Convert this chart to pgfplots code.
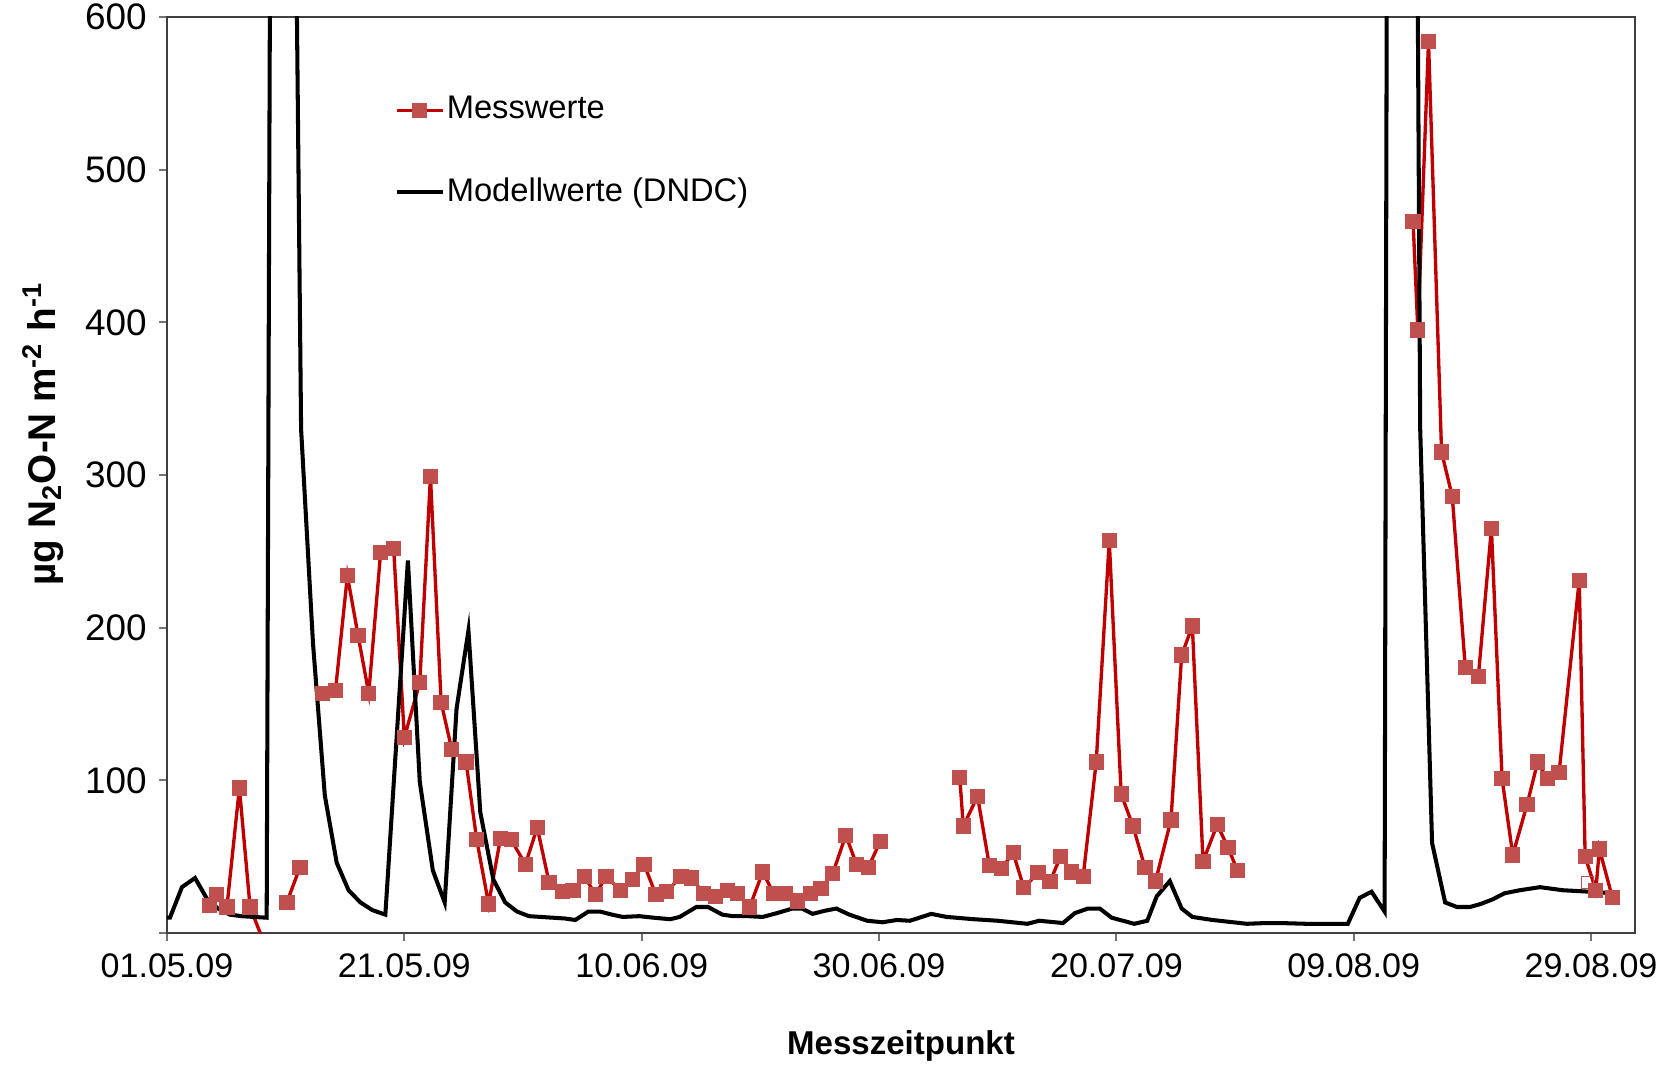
\documentclass[border=0pt]{standalone}
\usepackage{fontspec}
\setmainfont{Liberation Sans}
\usepackage{pgfplots}
\pgfplotsset{compat=1.18}
\definecolor{linered}{HTML}{C00000}
\definecolor{markred}{HTML}{C0504D}

\begin{document}
\begin{tikzpicture}
\begin{axis}[
  scale only axis, width=14.68cm, height=9.16cm,
  xmin=0, xmax=123.7, ymin=0, ymax=600,
  xtick={0,20,...,120},
  xticklabels={01.05.09,21.05.09,10.06.09,30.06.09,20.07.09,09.08.09,29.08.09},
  ytick={0,100,...,600}, yticklabels={,100,200,300,400,500,600},
  tick pos=left, tick align=outside, major tick length=0.8mm,
  tick style={black!55, line width=0.6pt},
  axis line style={black!75, line width=0.5pt},
  /pgf/number format/assume math mode=true,
  xticklabel style={font=\fontsize{9.7}{11}\selectfont},
  yticklabel style={font=\fontsize{10.5}{12}\selectfont},
  xlabel={\textbf{Messzeitpunkt}},
  xlabel style={font=\fontsize{9.4}{11}\selectfont, at={(axis description cs:0.5,-0.1234)}, anchor=center},
  ylabel={\textbf{µg N\textsubscript{2}O-N m\textsuperscript{-2} h\textsuperscript{-1}}},
  ylabel style={font=\fontsize{11}{12}\selectfont, at={(axis description cs:-0.0845,0.545)}, anchor=center},
  unbounded coords=jump,
  legend style={draw=none, fill=none, at={(rel axis cs:0.1546,0.853)}, anchor=west,
    inner xsep=0pt, row sep=3.95mm, font=\fontsize{9.3}{11}\selectfont,
    nodes={inner xsep=0.6pt}},
  legend cell align=left,
  legend image code/.code={\draw[mark repeat=2,mark phase=2,#1] plot coordinates {(0cm,0cm) (0.23cm,0cm) (0.46cm,0cm)};},
]
% Messwerte
\addplot[linered, line width=0.95pt, mark=square*, mark size=1.7pt,
  mark options={fill=markred, draw=markred, solid}] coordinates {
  (3.6,18) (4.2,25) (5.05,17) (6.1,95) (7.0,17) (8.1,-5) (8.5,nan)
  (10.1,20) (11.2,43) (12,nan)
  (13.1,157) (14.2,159) (15.2,234) (16.1,195) (17.0,157) (18.0,249) (19.1,252)
  (20.0,128) (21.3,164) (22.2,299) (23.1,151) (24.0,120) (25.2,112) (26.1,61)
  (27.1,19) (28.1,62) (29.0,61) (30.2,45) (31.2,69) (32.2,33) (33.3,27)
  (34.2,28) (35.2,37) (36.1,25) (37.0,37) (38.2,28) (39.2,35) (40.2,45)
  (41.2,25) (42.1,27) (43.3,37) (44.2,36) (45.2,26) (46.2,24) (47.2,28)
  (48.1,26) (49.1,17) (50.2,40) (51.1,26) (52.1,26) (53.1,21) (54.2,26)
  (55.1,29) (56.1,39) (57.2,64) (58.1,45) (59.1,43) (60.1,60) (63,nan)
  (66.8,102) (67.1,70) (68.3,89.5) (69.3,44) (70.3,42) (71.3,52.6) (72.2,29.6)
  (73.4,39.5) (74.4,33.6) (75.3,50) (76.2,40) (77.2,37) (78.3,112) (79.4,257)
  (80.4,91) (81.4,70) (82.4,43) (83.3,34) (84.6,74) (85.5,182) (86.4,201)
  (87.3,47) (88.5,71) (89.4,56) (90.2,41) (95,nan)
  (105.0,466) (105.4,395) (106.3,584) (107.4,315) (108.3,286) (109.4,174)
  (110.5,168) (111.6,265) (112.5,101) (113.4,51) (114.6,84) (115.5,112)
  (116.3,101) (117.3,105) (119.0,231) (119.5,50) (120.4,28) (120.7,55) (121.8,23)
};
\addlegendentry{Messwerte}
% Modellwerte (DNDC)
\addplot[black, line width=1.15pt] coordinates {
  (0,10) (0.25,10) (1.26,30) (2.36,36) (3.4,22) (4.3,16) (5.3,12) (6.3,11)
  (7.3,10.5) (8.4,10) (9.3,2000) (10.3,1100) (11.3,330) (12.3,190) (13.3,90)
  (14.3,46) (15.3,28) (16.3,20) (17.3,15) (18.4,12) (20.3,244) (21.3,99)
  (22.4,41) (23.4,20) (24.4,147) (25.4,198) (26.4,79) (27.5,35) (28.5,20)
  (29.5,14) (30.5,11) (31.5,10.5) (32.5,10) (33.5,9.5) (34.4,8.5) (35.5,14)
  (36.5,14) (37.5,12) (38.4,10.5) (39.8,11) (41,10) (42.4,9) (43.2,10.5)
  (44.6,17) (45.6,17) (46.8,12) (47.7,11) (49,11) (50.2,10.5) (51.4,13)
  (52.7,16) (53.5,16) (54.4,12.5) (55.4,14.5) (56.4,16) (57.5,12) (59.0,8)
  (60.3,7) (61.5,8.5) (62.6,8) (64.4,12.5) (65.7,10.5) (68,9) (70,8)
  (72.5,6) (73.5,8) (75.5,6.5) (76.5,13) (77.6,16) (78.6,16) (79.6,10)
  (81.5,6) (82.6,8) (83.4,24) (84.5,34) (85.5,16) (86.4,10.5) (88.1,8.5)
  (91,6) (92.6,6.5) (93.8,6.5) (96,6) (99.5,6) (100.5,23) (101.5,27)
  (102.6,14) (103.5,3000) (104.6,1700) (105.6,330) (106.6,59) (107.7,20)
  (108.7,17) (109.8,17) (110.7,19) (111.7,22) (112.7,26) (114,28) (115.7,30)
  (117.6,28) (119.9,27) (121.8,26)
};
\addlegendentry{Modellwerte (DNDC)}
% offener Messpunkt
\addplot[only marks, mark=square, mark size=1.7pt, markred, forget plot]
  coordinates {(119.7,33)};
\coordinate (SW) at (rel axis cs:0,0);
\coordinate (NE) at (rel axis cs:1,1);
\end{axis}
\pgfresetboundingbox
\useasboundingbox ([shift={(-16.7mm,-13.2mm)}]SW) rectangle ([shift={(3.3mm,1.7mm)}]NE);
\end{tikzpicture}
\end{document}
